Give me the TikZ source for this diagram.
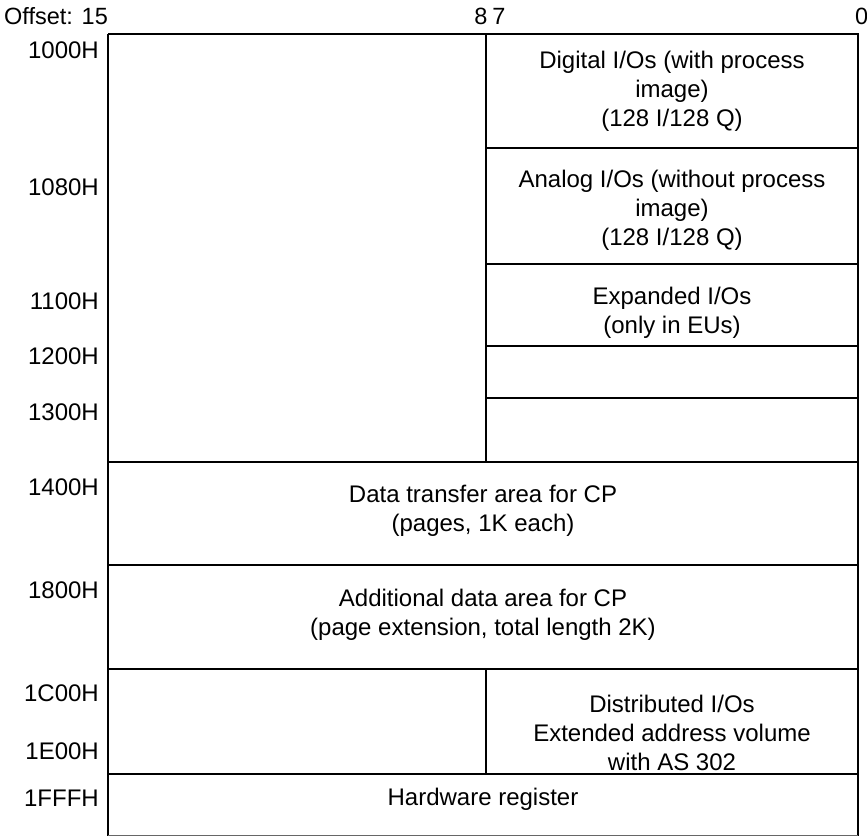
\documentclass[tikz,border=0pt]{standalone}
\usepackage{fontspec}
\setmainfont{Liberation Sans}
\begin{document}
\begin{tikzpicture}[x=1pt,y=-1pt,
  txt/.style={font=\fontsize{24}{29}\selectfont, align=center, inner sep=0pt},
  addr/.style={font=\fontsize{24}{24}\selectfont, anchor=east, inner sep=0pt},
  bit/.style={font=\fontsize{23.5}{24}\selectfont, inner sep=0pt},
  ln/.style={line width=1.8pt, black}]
\useasboundingbox (0,0) rectangle (867,836);
% outer frame
\draw[ln] (108,34) -- (858,34) -- (858,836);
\draw[ln] (108,34) -- (108,836);
\draw[line width=0.8pt, black!60] (108,835) -- (858,835);
% middle divider
\draw[ln] (486,34) -- (486,462);
\draw[ln] (486,669) -- (486,774);
% right column lines
\draw[ln] (486,148) -- (858,148);
\draw[ln] (486,264) -- (858,264);
\draw[ln] (486,346) -- (858,346);
\draw[ln] (486,398) -- (858,398);
% full-width lines
\draw[ln] (108,462) -- (858,462);
\draw[ln] (108,565) -- (858,565);
\draw[ln] (108,669) -- (858,669);
\draw[ln] (108,774) -- (858,774);
% bit offsets
\node[bit, anchor=west] (off) at (4,16) {Offset: 15};
\node[bit] (b8) at (481,16) {8};
\node[bit] (b7) at (499,16) {7};
\node[bit, anchor=west] (b0) at (855,16) {0};
% addresses
\node[addr] (a1000) at (99,50) {1000H};
\node[addr] (a1080) at (99,187) {1080H};
\node[addr] (a1100) at (99,301) {1100H};
\node[addr] (a1200) at (99,356) {1200H};
\node[addr] (a1300) at (99,412) {1300H};
\node[addr] (a1400) at (99,487) {1400H};
\node[addr] (a1800) at (99,590) {1800H};
\node[addr] (a1C00) at (99,693) {1C00H};
\node[addr] (a1E00) at (99,751) {1E00H};
\node[addr] (a1FFF) at (99,798) {1FFFH};
% region texts
\node[txt] (dig) at (672,91) {Digital I/Os (with process\\image)\\(128 I/128 Q)};
\node[txt] (ana) at (672,210) {Analog I/Os (without process\\image)\\(128 I/128 Q)};
\node[txt] (exp) at (672,313) {Expanded I/Os\\(only in EUs)};
\node[txt] (dta) at (483,511) {Data transfer area for CP\\(pages, 1K each)};
\node[txt] (add) at (483,615) {Additional data area for CP\\(page extension, total length 2K)};
\node[txt] (dist) at (672,733) {Distributed I/Os\\Extended address volume\\with AS 302};
\node[txt] (hw) at (483,799) {Hardware register};
\end{tikzpicture}
\end{document}
